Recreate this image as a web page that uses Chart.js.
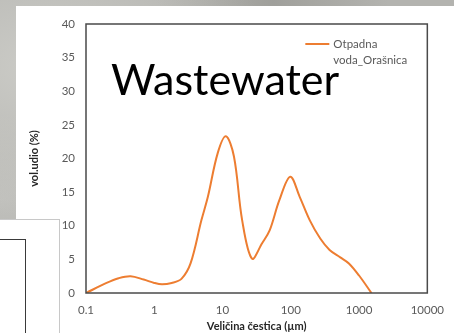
<!DOCTYPE html>
<html>
<head>
<meta charset="utf-8">
<script src="https://cdn.jsdelivr.net/npm/chart.js@4"></script>
<style>
  html, body { margin: 0; padding: 0; }
  body { width: 454px; height: 333px; position: relative; overflow: hidden;
    background: #b3b3af;
    background-image:
      radial-gradient(ellipse at 10% 20%, rgba(220,220,215,0.6), rgba(0,0,0,0) 40%),
      radial-gradient(ellipse at 60% 0%, rgba(140,140,135,0.5), rgba(0,0,0,0) 30%),
      radial-gradient(ellipse at 0% 60%, rgba(200,200,196,0.6), rgba(0,0,0,0) 30%);
  }
  #panel { position: absolute; left: 16px; top: 6px; width: 438px; height: 327px; background: #ffffff; }
  #box { position: absolute; left: 0; top: 219px; width: 60px; height: 114px; background: #ffffff; border-top: 1px solid #c8c8c8; border-right: 1px solid #c8c8c8; box-sizing: border-box; }
  #inner { position: absolute; left: -2px; top: 239px; width: 28px; height: 100px; border: 1.5px solid #3a3a3a; box-sizing: border-box; }
  #wrap { position: absolute; left: 0; top: 0; width: 454px; height: 333px; }
</style>
</head>
<body>
<div id="panel"></div>
<div id="box"></div>
<div id="inner"></div>
<div id="wrap"><canvas id="c" width="454" height="333"></canvas></div>
<script>
const sizes = [0.1, 0.2, 0.3, 0.45, 0.7, 1.0, 1.3, 1.8, 2.5, 3.4, 4.9, 6.1, 8.5, 11.2, 14.7, 19.4, 27, 38, 49, 68, 98, 135, 190, 270, 370, 530, 710, 1000, 1520];
const volUdio = [0, 1.5, 2.2, 2.5, 2.0, 1.5, 1.3, 1.5, 2.1, 4.4, 10.8, 14.3, 20.8, 23.3, 20.3, 10.8, 5.1, 7.4, 9.3, 13.8, 17.3, 14.3, 10.8, 8.1, 6.4, 5.3, 4.4, 2.6, 0];
const xTicks = [0.1, 1, 10, 100, 1000, 10000];
const yTicks = [0, 5, 10, 15, 20, 25, 30, 35, 40];
const seriesLabel = ['Otpadna', 'voda_Orašnica'];
const chartTitle = 'Wastewater';
const xTitle = 'Veličina čestica (µm)';
const yTitle = 'vol.udio (%)';

const FONT = 'Lato, "Open Sans", sans-serif';
const ORANGE = '#ED7D31';
const GRAY = '#595959';

const boxPlugin = {
  id: 'boxAndText',
  afterDatasetsDraw(chart) {
    const ctx = chart.ctx, a = chart.chartArea;
    ctx.save();
    ctx.strokeStyle = '#4a4a4a';
    ctx.lineWidth = 1.5;
    ctx.strokeRect(a.left, a.top, a.right - a.left, a.bottom - a.top);
    // title text box
    ctx.fillStyle = '#000000';
    ctx.font = '43px ' + FONT;
    ctx.textBaseline = 'alphabetic';
    ctx.textAlign = 'left';
    ctx.fillText(chartTitle, a.left + 25, a.top + 71);
    // legend
    const lx = a.right - 122, ly = a.top + 20;
    ctx.strokeStyle = chart.data.datasets[0].borderColor;
    ctx.lineWidth = 2;
    ctx.beginPath(); ctx.moveTo(lx, ly); ctx.lineTo(lx + 24, ly); ctx.stroke();
    ctx.fillStyle = GRAY;
    ctx.font = '11.5px ' + FONT;
    ctx.textBaseline = 'middle';
    ctx.fillText(seriesLabel[0], lx + 28, ly);
    ctx.fillText(seriesLabel[1], lx + 28, ly + 16);
    ctx.restore();
  }
};

new Chart(document.getElementById('c'), {
  type: 'line',
  data: {
    datasets: [{
      label: seriesLabel.join(' '),
      data: sizes.map((s, i) => ({ x: s, y: volUdio[i] })),
      borderColor: ORANGE,
      backgroundColor: ORANGE,
      borderWidth: 2,
      pointRadius: 0,
      tension: 0.35,
      fill: false
    }]
  },
  options: {
    responsive: false,
    animation: false,
    layout: { padding: { left: 0, right: 16, top: 24, bottom: 0 } },
    plugins: { legend: { display: false }, tooltip: { enabled: false } },
    scales: {
      x: {
        type: 'logarithmic',
        min: xTicks[0], max: xTicks[xTicks.length - 1],
        afterBuildTicks: s => { s.ticks = xTicks.map(v => ({ value: v })); },
        afterFit: s => { s.height = 40; },
        grid: { display: false, drawTicks: false },
        border: { display: false },
        ticks: { color: GRAY, font: { family: FONT, size: 11.5 }, padding: 10, maxRotation: 0, autoSkip: false,
          callback: v => String(v) },
        title: { display: true, text: xTitle, color: '#262626', font: { family: FONT, size: 11, weight: 'bold' }, padding: { top: 0, bottom: 0 } }
      },
      y: {
        min: 0, max: 40,
        afterBuildTicks: s => { s.ticks = yTicks.map(v => ({ value: v })); },
        afterFit: s => { s.width = 86; },
        grid: { display: false, drawTicks: false },
        border: { display: false },
        ticks: { color: GRAY, font: { family: FONT, size: 11.5 }, padding: 11 },
        title: { display: true, text: yTitle, color: '#262626', font: { family: FONT, size: 11, weight: 'bold' }, padding: { top: 28, bottom: 0 } }
      }
    }
  },
  plugins: [boxPlugin]
});
</script>
</body>
</html>
